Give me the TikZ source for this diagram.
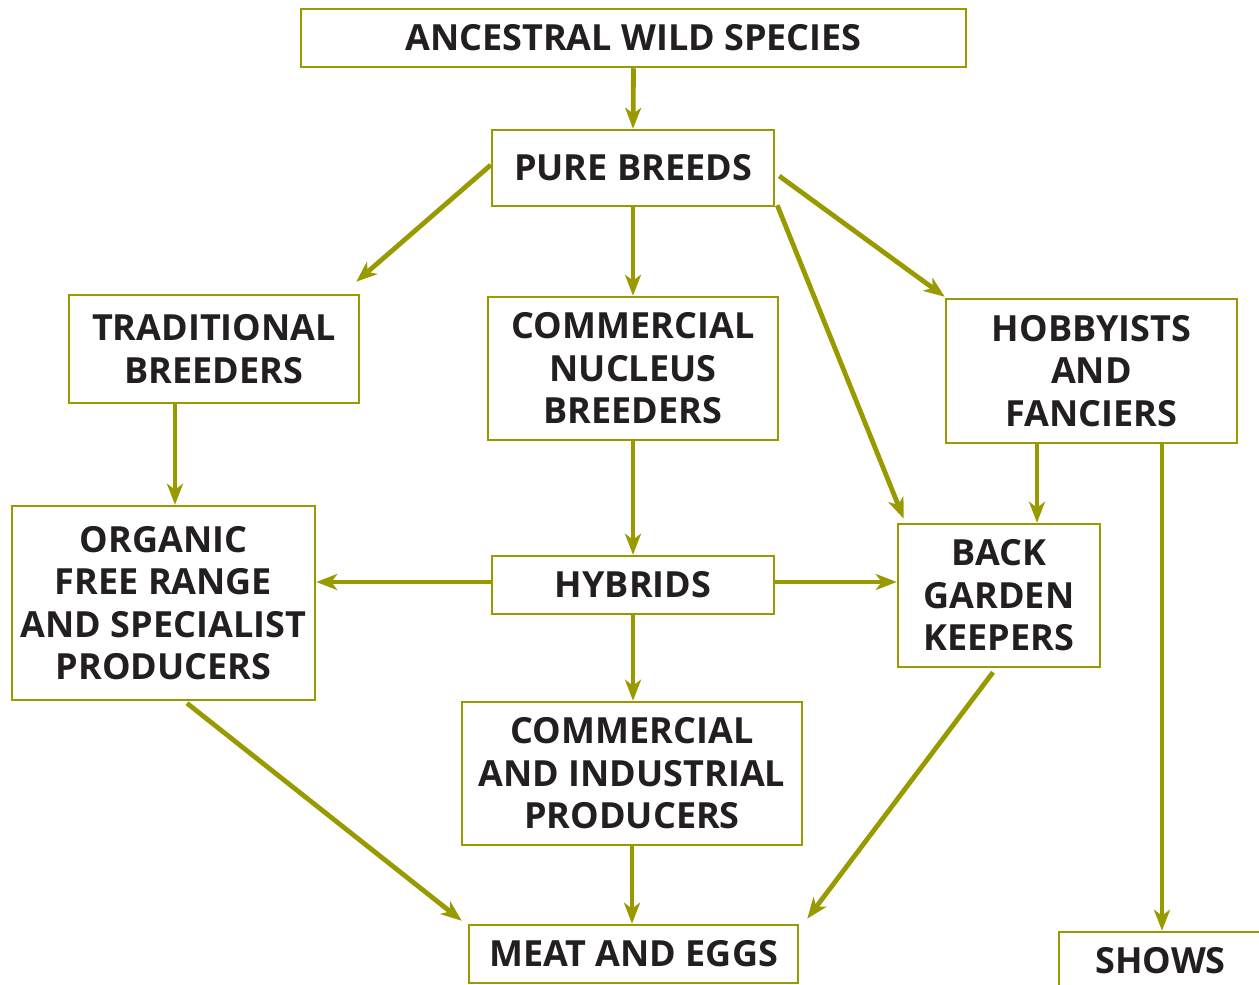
\documentclass[tikz,border=0pt]{standalone}
\usepackage{fontspec}
\setmainfont{Open Sans}
\usetikzlibrary{arrows.meta}
\definecolor{olivec}{RGB}{153,153,0}
\definecolor{inkc}{RGB}{35,31,32}
\tikzset{
  box/.style={draw=olivec, line width=2.5pt, fill=white, inner sep=0pt, align=center,
    text=inkc, font=\fontsize{36}{42.5}\selectfont\bfseries},
  arr/.style={draw=olivec, line width=4.8pt, -{Stealth[length=21pt,width=16pt,inset=6pt]}},
}
\begin{document}
\begin{tikzpicture}[x=1pt,y=-1pt]
\useasboundingbox (0,0) rectangle (1259,985);
\clip (0,0) rectangle (1259,985);
\node[box, minimum width=665pt, minimum height=58pt] (anc) at (633.5,38) {ANCESTRAL WILD SPECIES};
\node[box, minimum width=282pt, minimum height=76pt] (pure) at (633,168) {PURE BREEDS};
\node[box, minimum width=290pt, minimum height=108pt] (trad) at (214,349) {TRADITIONAL\\BREEDERS};
\node[box, minimum width=290pt, minimum height=143pt] (cnb) at (633,368.5) {COMMERCIAL\\NUCLEUS\\BREEDERS};
\node[box, minimum width=291pt, minimum height=144pt] (hob) at (1091.5,371) {HOBBYISTS\\AND\\FANCIERS};
\node[box, minimum width=303pt, minimum height=194pt] (org) at (163.5,603) {ORGANIC\\FREE RANGE\\AND SPECIALIST\\PRODUCERS};
\node[box, minimum width=282pt, minimum height=58pt] (hyb) at (633,585) {HYBRIDS};
\node[box, minimum width=202pt, minimum height=143pt] (bgk) at (999,595.5) {BACK\\GARDEN\\KEEPERS};
\node[box, minimum width=340pt, minimum height=143pt] (cip) at (632,773.5) {COMMERCIAL\\AND INDUSTRIAL\\PRODUCERS};
\node[box, minimum width=329pt, minimum height=58pt] (meat) at (633.5,954) {MEAT AND EGGS};
\node[box, minimum width=203pt, minimum height=58pt] (shows) at (1160.5,961) {SHOWS};

\draw[arr] (anc.south) -- (pure.north);
\draw[arr] ([yshift=3pt]pure.west) -- ([xshift=-4pt,yshift=12pt]trad.north east);
\draw[arr] (pure.south) -- (cnb.north);
\draw[arr] ([xshift=4pt,yshift=-8pt]pure.east) -- ([yshift=1pt]hob.north west);
\draw[arr] ([xshift=2pt,yshift=2pt]pure.south east) -- ([xshift=7pt,yshift=4pt]bgk.north west);
\draw[arr] ([xshift=-39pt]trad.south) -- ([xshift=11.5pt]org.north);
\draw[arr] (cnb.south) -- (hyb.north);
\draw[arr] ([yshift=3pt]hyb.west) -- ([yshift=3pt]hyb.west -| org.east);
\draw[arr] ([yshift=3pt]hyb.east) -- ([yshift=3pt]hyb.east -| bgk.west);
\draw[arr] (hyb.south) -- (hyb.south |- cip.north);
\draw[arr] ([xshift=-54.5pt]hob.south) -- ([xshift=-54.5pt]hob.south |- bgk.north);
\draw[arr] ([xshift=70.5pt]hob.south) -- ([xshift=70.5pt]hob.south |- shows.north);
\draw[arr] ([xshift=23.5pt,yshift=-2pt]org.south) -- ([xshift=-6pt,yshift=3pt]meat.north west);
\draw[arr] (cip.south) -- (cip.south |- meat.north);
\draw[arr] ([xshift=-6pt,yshift=-4pt]bgk.south) -- ([xshift=8pt,yshift=5pt]meat.north east);
\end{tikzpicture}
\end{document}
